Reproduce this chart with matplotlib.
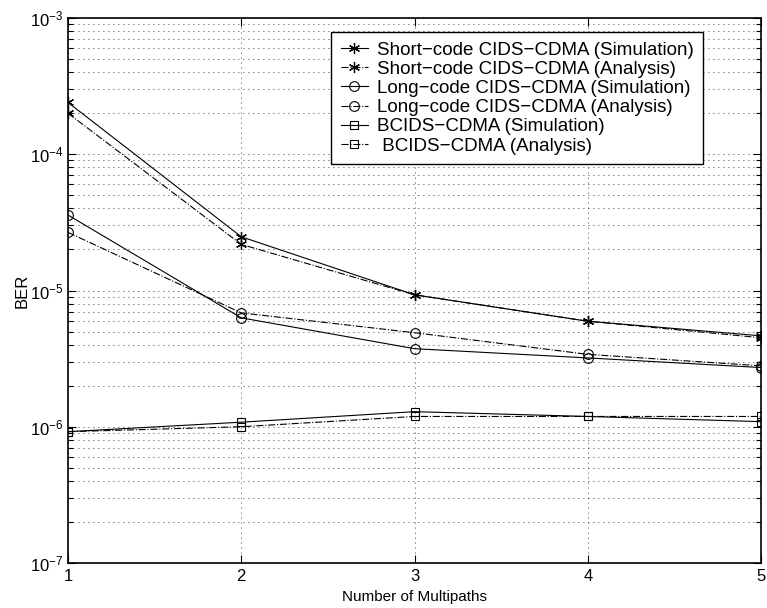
import matplotlib
matplotlib.use("Agg")
import matplotlib.pyplot as plt
from matplotlib.ticker import LogLocator, NullFormatter, FixedLocator

plt.rcParams['font.family'] = ['Liberation Sans', 'DejaVu Sans']
plt.rcParams['mathtext.fontset'] = 'custom'
plt.rcParams['mathtext.rm'] = 'Liberation Sans'
plt.rcParams['mathtext.it'] = 'Liberation Sans'

# data
paths = [1, 2, 3, 4, 5]
short_sim = [2.4e-4, 2.48e-5, 9.3e-6, 5.95e-6, 4.65e-6]
short_ana = [2.0e-4, 2.18e-5, 9.3e-6, 5.95e-6, 4.5e-6]
long_sim = [3.58e-5, 6.3e-6, 3.74e-6, 3.2e-6, 2.72e-6]
long_ana = [2.67e-5, 6.85e-6, 4.9e-6, 3.4e-6, 2.8e-6]
bcids_sim = [9.2e-7, 1.08e-6, 1.29e-6, 1.19e-6, 1.09e-6]
bcids_ana = [9.2e-7, 1.0e-6, 1.19e-6, 1.19e-6, 1.19e-6]

labels = [
    "Short\u2212code CIDS\u2212CDMA (Simulation)",
    "Short\u2212code CIDS\u2212CDMA (Analysis)",
    "Long\u2212code CIDS\u2212CDMA (Simulation)",
    "Long\u2212code CIDS\u2212CDMA (Analysis)",
    "BCIDS\u2212CDMA (Simulation)",
    " BCIDS\u2212CDMA (Analysis)",
]

fig = plt.figure(figsize=(7.67, 6.08), dpi=100)
ax = fig.add_axes([68 / 767, 45 / 608, 693 / 767, 545 / 608])

lw = 0.8
star = (6, 2, 0)
ax.semilogy(paths, short_sim, 'k-', marker=star, ms=8, mew=0.9, lw=lw, label=labels[0])
ax.semilogy(paths, short_ana, 'k-.', marker=star, ms=8, mew=0.9, lw=lw, label=labels[1])
ax.semilogy(paths, long_sim, 'k-', marker='o', ms=7, mfc='none', mew=0.8, lw=lw, label=labels[2])
ax.semilogy(paths, long_ana, 'k-.', marker='o', ms=7, mfc='none', mew=0.8, lw=lw, label=labels[3])
ax.semilogy(paths, bcids_sim, 'k-', marker='s', ms=6, mfc='none', mew=0.8, lw=lw, label=labels[4])
ax.semilogy(paths, bcids_ana, 'k-.', marker='s', ms=6, mfc='none', mew=0.8, lw=lw, label=labels[5])

ax.set_xlim(1, 5)
ax.set_ylim(1e-7, 1e-3)
ax.xaxis.set_major_locator(FixedLocator(paths))
ax.yaxis.set_major_locator(LogLocator(base=10, numticks=10))
ax.yaxis.set_minor_locator(LogLocator(base=10, subs=range(2, 10), numticks=20))
ax.yaxis.set_minor_formatter(NullFormatter())

ax.grid(True, which='both', linestyle=(0, (1, 5)), color='k', linewidth=0.6)
ax.tick_params(which='both', direction='in', top=True, right=True, labelsize=12, width=0.8)
ax.tick_params(which='major', length=6)
ax.tick_params(which='minor', length=3.5)
ax.tick_params(axis='x', pad=4)
for s in ax.spines.values():
    s.set_linewidth(1.2)

ax.set_xlabel("Number of Multipaths", fontsize=11,
              family=['Liberation Sans Narrow', 'Liberation Sans'], labelpad=5)
ax.set_ylabel("BER", fontsize=12, labelpad=0)

leg = ax.legend(loc='upper right', bbox_to_anchor=(0.917, 0.974), fontsize=13.5,
                frameon=True, fancybox=False, framealpha=1, edgecolor='k',
                handlelength=1.45, handletextpad=0.5, borderpad=0.5,
                labelspacing=0.11, borderaxespad=0)
leg.get_frame().set_linewidth(1.0)

fig.savefig("out.png", dpi=100)
